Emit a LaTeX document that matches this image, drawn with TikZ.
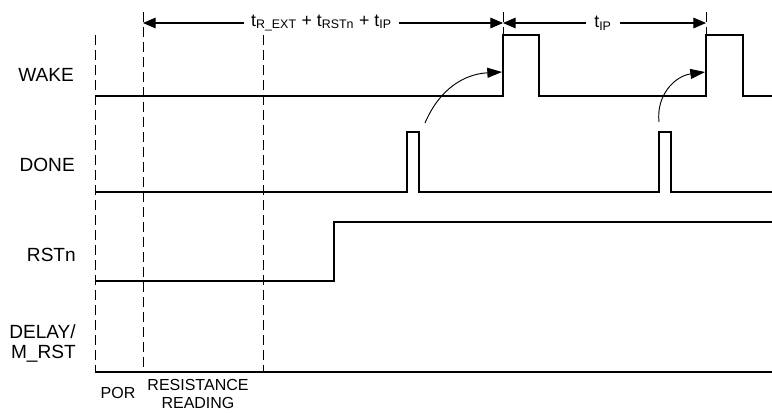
\documentclass[tikz,border=0pt]{standalone}
\usepackage{fontspec}
\setmainfont{Liberation Sans}
\usetikzlibrary{arrows.meta}

\begin{document}
\begin{tikzpicture}[x=0.75pt,y=-0.75pt,
    sig/.style={line width=0.8pt},
    grid/.style={dash pattern=on 7.5pt off 3.75pt,line width=0.7pt},
    tarr/.style={-{Triangle[length=9.5pt,width=8pt]},line width=0.8pt},
    cause/.style={-{Triangle[length=11pt,width=7.5pt]},line width=0.7pt},
    lab/.style={font=\fontsize{14.3}{16}\selectfont,inner sep=0pt,anchor=east},
    phase/.style={font=\fontsize{12}{13.5}\selectfont,align=center,inner sep=0pt}]
\useasboundingbox (0,0) rectangle (772,412);

    % signal names
    \draw (74,75) node[lab] (wake) {WAKE};
    \draw (75,165) node[lab] (done) {DONE};
    \draw (76,255) node[lab] (rstn) {RSTn};
    \draw (76,343) node[lab,align=right,font=\fontsize{14.3}{15}\selectfont] (delay) {DELAY/\\M\_RST};

    % phases
    \draw (118,393) node[phase] (por) {POR};
    \draw (198,394) node[phase] (resread) {RESISTANCE\\READING};

    % dashed markers
    \coordinate (g1t) at (95,35);   \coordinate (g1b) at (95,372);
    \coordinate (g2t) at (143,12);  \coordinate (g2b) at (143,372);
    \coordinate (g3t) at (263,35);  \coordinate (g3b) at (263,372);
    \coordinate (g4t) at (503,12);  \coordinate (g4b) at (503,35);
    \coordinate (g5t) at (706,12);  \coordinate (g5b) at (706,35);
    \foreach \g in {g1,g2,g3,g4,g5}
      \draw[grid] (\g t) -- (\g b);

    % waveforms
    \draw[sig] (95,96) -- (503,96) -- (503,35) -- (539,35) -- (539,96)
      -- (706,96) -- (706,35) -- (743,35) -- (743,96) -- (772,96);
    \draw[sig] (95,192) -- (407,192) -- (407,132) -- (419,132) -- (419,192)
      -- (659,192) -- (659,132) -- (671,132) -- (671,192) -- (772,192);
    \draw[sig] (95,281) -- (334,281) -- (334,222) -- (772,222);
    \draw[sig] (95,372) -- (772,372);

    % timing
    \coordinate (a1) at (143,23);
    \coordinate (a2) at (503,23);
    \coordinate (a3) at (706,23);
    \draw (321.5,23) node[inner sep=5pt,font=\fontsize{13.3}{16}\selectfont] (tsum)
      {t\textsubscript{R\_EXT} + t\textsubscript{RSTn} + t\textsubscript{IP}};
    \draw (603,23) node[inner sep=6pt,font=\fontsize{13.3}{16}\selectfont] (tip) {t\textsubscript{IP}};
    \path[tarr] (tsum) edge (a1) (tsum) edge (a2);
    \path[tarr] (tip) edge (a2) (tip) edge (a3);

    % done -> wake
    \coordinate (d1) at (425,123);  \coordinate (w1) at (502,72);
    \coordinate (d2) at (659,122);  \coordinate (w2) at (705,72);
    \draw[cause] (d1) .. controls (440,88) and (465,74) .. (w1);
    \draw[cause] (d2) .. controls (656,95) and (675,76) .. (w2);

\end{tikzpicture}
\end{document}
